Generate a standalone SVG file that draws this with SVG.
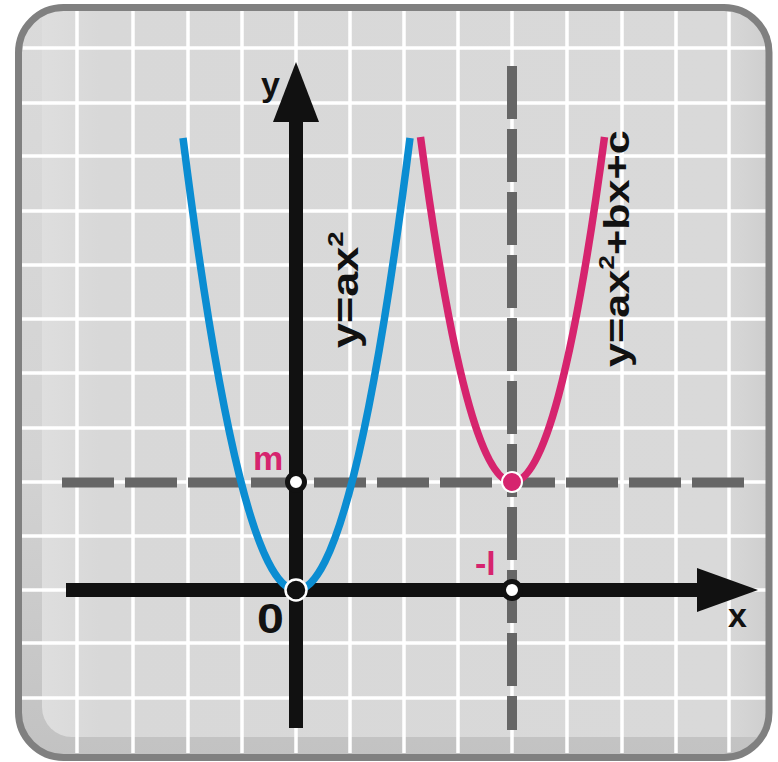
<svg xmlns="http://www.w3.org/2000/svg" width="778" height="762" viewBox="0 0 778 762">
  <defs>
    <linearGradient id="panelGrad" x1="0" y1="0" x2="0" y2="1">
      <stop offset="0" stop-color="#dadada"/>
      <stop offset="0.6" stop-color="#d3d3d3"/>
      <stop offset="1" stop-color="#c2c2c2"/>
    </linearGradient>
    <linearGradient id="innerGrad" x1="0" y1="0" x2="1" y2="0">
      <stop offset="0" stop-color="#dedede"/>
      <stop offset="0.08" stop-color="#d8d8d8"/>
      <stop offset="0.94" stop-color="#d9d9d9"/>
      <stop offset="1" stop-color="#cfcfcf"/>
    </linearGradient>
    <clipPath id="panelClip">
      <rect x="22" y="11" width="744" height="742" rx="42" ry="42"/>
    </clipPath>
    <style>
      .grid line { stroke: #ffffff; stroke-width: 3.5; }
      .dash { stroke: #666666; stroke-width: 10; fill: none; }
      .axis { stroke: #111111; stroke-width: 14; fill: none; }
      .head { fill: #111111; }
      .blue { stroke: #0b8dd2; stroke-width: 7.5; fill: none; }
      .pink { stroke: #d6246e; stroke-width: 7.5; fill: none; }
      .lbl { font-family: "Liberation Sans", Arial, sans-serif; font-weight: bold; }
      .blk { fill: #111111; }
      .pk { fill: #d6246e; }
    </style>
  </defs>

  <g id="frame">
    <rect x="18.5" y="7.5" width="750.5" height="750" rx="45" ry="45" fill="url(#panelGrad)"/>
    <g clip-path="url(#panelClip)">
      <path d="M42,11 H766 V737 H72 A30,30 0 0 1 42,707 Z" fill="url(#innerGrad)"/>
    </g>
  </g>

  <g id="grid" class="grid" clip-path="url(#panelClip)">
    <line x1="77" y1="0" x2="77" y2="762"/>
    <line x1="133" y1="0" x2="133" y2="762"/>
    <line x1="188" y1="0" x2="188" y2="762"/>
    <line x1="242" y1="0" x2="242" y2="762"/>
    <line x1="296" y1="0" x2="296" y2="762"/>
    <line x1="350" y1="0" x2="350" y2="762"/>
    <line x1="404" y1="0" x2="404" y2="762"/>
    <line x1="458" y1="0" x2="458" y2="762"/>
    <line x1="512" y1="0" x2="512" y2="762"/>
    <line x1="567" y1="0" x2="567" y2="762"/>
    <line x1="622" y1="0" x2="622" y2="762"/>
    <line x1="676" y1="0" x2="676" y2="762"/>
    <line x1="729" y1="0" x2="729" y2="762"/>
    <line x1="0" y1="48" x2="778" y2="48"/>
    <line x1="0" y1="103" x2="778" y2="103"/>
    <line x1="0" y1="156" x2="778" y2="156"/>
    <line x1="0" y1="211" x2="778" y2="211"/>
    <line x1="0" y1="265" x2="778" y2="265"/>
    <line x1="0" y1="319" x2="778" y2="319"/>
    <line x1="0" y1="373" x2="778" y2="373"/>
    <line x1="0" y1="428" x2="778" y2="428"/>
    <line x1="0" y1="482" x2="778" y2="482"/>
    <line x1="0" y1="536" x2="778" y2="536"/>
    <line x1="0" y1="590" x2="778" y2="590"/>
    <line x1="0" y1="643" x2="778" y2="643"/>
    <line x1="0" y1="698" x2="778" y2="698"/>
  </g>

  <rect x="18.5" y="7.5" width="750.5" height="750" rx="45" ry="45" fill="none" stroke="#808080" stroke-width="7"/>

  <g id="guides">
    <line class="dash" x1="62" y1="482.5" x2="745" y2="482.5" stroke-dasharray="52 11"/>
    <line class="dash" x1="512" y1="66" x2="512" y2="730" stroke-dasharray="53 10"/>
  </g>

  <g id="axes">
    <line class="axis" x1="296" y1="728" x2="296" y2="118"/>
    <polygon class="head" points="296,62 273,122 319,122"/>
    <line class="axis" x1="66" y1="590" x2="700" y2="590"/>
    <polygon class="head" points="758,590 697,568 697,612"/>
  </g>

  <g id="curves">
    <path id="curve-blue" class="blue" d="M183,138 Q296.5,1042 410,138"/>
    <path id="curve-pink" class="pink" d="M420.5,137 Q512.5,827 604.5,137"/>
  </g>

  <g id="points">
    <circle id="pt-m" cx="296" cy="482" r="8.5" fill="#ffffff" stroke="#111111" stroke-width="5"/>
    <circle id="pt-origin" cx="296" cy="590" r="10.5" fill="#111111" stroke="#ffffff" stroke-width="2.5"/>
    <circle id="pt-vertex" cx="512" cy="482" r="10" fill="#d6246e" stroke="#ffffff" stroke-width="2"/>
    <circle id="pt-l" cx="512" cy="590" r="8.5" fill="#ffffff" stroke="#111111" stroke-width="5"/>
  </g>

  <g id="labels">
    <text class="lbl blk" x="261" y="96" font-size="34">y</text>
    <text class="lbl blk" x="728" y="627" font-size="34">x</text>
    <text class="lbl blk" font-size="42" text-anchor="middle" transform="translate(270.5,633) scale(1.15,1)">0</text>
    <text class="lbl pk" x="253" y="470" font-size="34">m</text>
    <text class="lbl pk" x="475" y="575" font-size="34">-l</text>
    <text class="lbl blk" font-size="36" transform="translate(358,348) rotate(-90) scale(1.25,1)">y=ax<tspan font-size="22" dy="-15">2</tspan></text>
    <text class="lbl blk" font-size="36" transform="translate(629,367) rotate(-90) scale(1.2,1)">y=ax<tspan font-size="22" dy="-15">2</tspan><tspan dy="15">+bx+c</tspan></text>
  </g>
</svg>
